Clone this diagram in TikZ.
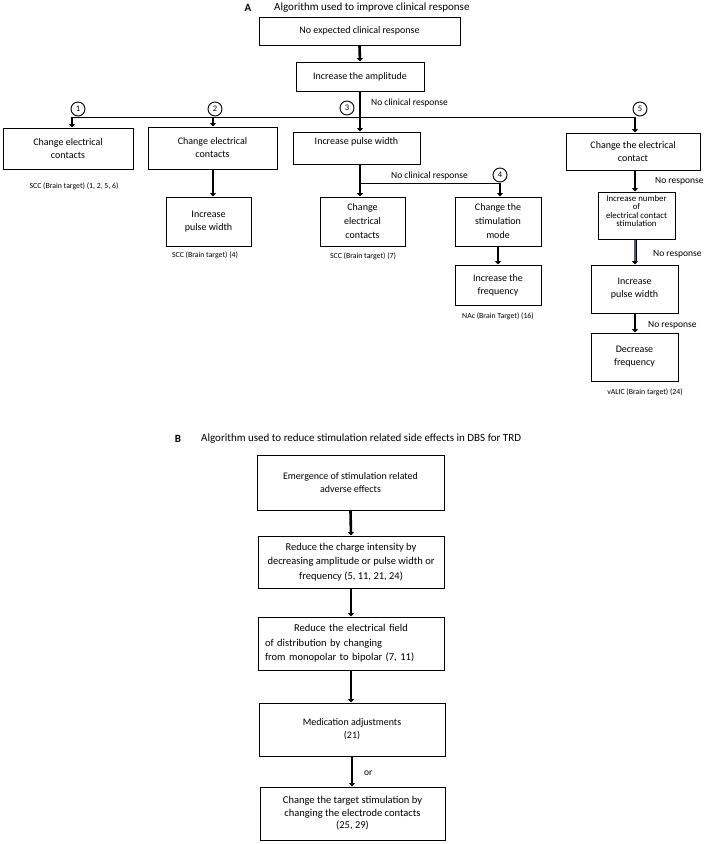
\documentclass[tikz,border=0pt]{standalone}
\usepackage{fontspec}
\setmainfont{Carlito}
\usetikzlibrary{arrows.meta}
\definecolor{slate}{RGB}{75,90,118}
\tikzset{
  box/.style={draw, line width=1pt, align=center, inner sep=1pt, font=\fontsize{10}{13}\selectfont},
  arr/.style={line width=2.6pt, -{Triangle[length=3.5pt,width=6pt]}},
  thinline/.style={line width=0.8pt},
  circ/.style={draw, circle, line width=0.9pt, minimum size=14pt, inner sep=0pt, fill=white, font=\fontsize{8.5}{9}\selectfont},
  small/.style={font=\fontsize{7.8}{8}\selectfont, inner sep=0pt},
  resp/.style={font=\fontsize{9.5}{10}\selectfont, inner sep=0pt, anchor=west},
  ttl/.style={font=\fontsize{11}{12}\selectfont, inner sep=0pt, anchor=west},
  ttlb/.style={font=\fontsize{11}{12}\bfseries, inner sep=0pt}
}
\begin{document}
\begin{tikzpicture}[x=1pt,y=-1pt]
\useasboundingbox (0,0) rectangle (708,844);
% ---------- Part A ----------
\node[ttlb] (A) at (248,8) {A};
\node[ttl] (tA) at (274,8) {Algorithm used to improve clinical response};
\node[box, minimum width=201pt, minimum height=28pt] (n1) at (359.5,31) {No expected clinical response};
\node[box, minimum width=128pt, minimum height=29pt] (n2) at (360,76.5) {Increase the amplitude};
\node[box, minimum width=130pt, minimum height=41pt] (b1) at (68,148.5) {Change electrical\\contacts};
\node[box, minimum width=129pt, minimum height=42pt] (b2) at (212.5,148) {Change electrical\\contacts};
\node[box, minimum width=85pt, minimum height=49pt] (b2b) at (208.5,221.5) {Increase\\pulse width};
\node[box, minimum width=127pt, minimum height=32pt] (b3) at (356.5,148) {Increase pulse width\\\mbox{}};
\node[box, minimum width=85pt, minimum height=49pt, font=\fontsize{10}{14}\selectfont] (b3a) at (362.5,221.5) {Change\\electrical\\contacts};
\node[box, minimum width=86pt, minimum height=49pt, font=\fontsize{10}{14}\selectfont] (b4) at (498,221.5) {Change the\\stimulation\\mode};
\node[box, minimum width=86pt, minimum height=40pt] (b4b) at (498,285) {Increase the\\frequency};
\node[box, minimum width=134pt, minimum height=37pt] (b5) at (633,151.5) {Change the electrical\\contact};
\node[box, minimum width=77pt, minimum height=47pt, font=\fontsize{8.8}{8.2}\selectfont] (b5b) at (636.5,215.5) {Increase number\\of\\electrical contact\\stimulation\\[1pt]\mbox{}};
\node[box, minimum width=87pt, minimum height=48pt] (b5c) at (634.5,289) {Increase\\pulse width};
\node[box, minimum width=87pt, minimum height=48pt] (b5d) at (634.5,357) {Decrease\\frequency};

\node[small] (l1) at (74,186) {SCC (Brain target) (1, 2, 5, 6)};
\node[small] (l2) at (205,255) {SCC (Brain target) (4)};
\node[small] (l3) at (363,256) {SCC (Brain target) (7)};
\node[small] (l4) at (498,316) {NAc (Brain Target) (16)};
\node[small] (l5) at (645,392) {vALIC (Brain target) (24)};

\coordinate (hl) at (72,117);
\coordinate (h2) at (213,117);
\coordinate (hr) at (635,117);
\coordinate (v3) at (360,183);
\coordinate (v4) at (500,183);

\draw[thinline] (hl) -- (hr);
\draw[thinline] (v3) -- (v4);
\draw[arr] (n1.south) -- (n2.north);
\draw[arr] (n2.south) -- (n2.south |- b3.north);
\draw[arr] (hl) -- (hl |- b1.north);
\draw[arr] (h2) -- (h2 |- b2.north);
\draw[arr] (hr) -- (hr |- b5.north);
\draw[arr] (h2 |- b2.south) -- (h2 |- b2b.north);
\draw[arr] (v3 |- b3.south) -- (v3 |- b3a.north);
\draw[arr] (v4) -- (v4 |- b4.north);
\draw[arr] (b4.south) -- (b4b.north);
\draw[arr] (hr |- b5.south) -- (hr |- b5b.north);
\draw[arr, line width=3pt] (hr |- b5b.south) -- (hr |- b5c.north);
\draw[slate, line width=1.4pt, shorten >=4pt] (hr |- b5b.south) -- (hr |- b5c.north);
\draw[arr] (hr |- b5c.south) -- (hr |- b5d.north);

\node[circ] (c1) at (78,109) {1};
\node[circ] (c2) at (215,109) {2};
\node[circ] (c3) at (347,108) {3};
\node[circ] (c4) at (500,175) {4};
\node[circ] (c5) at (640,109) {5};

\node[resp] (r1) at (371,103) {No clinical response};
\node[resp] (r2) at (391,176) {No clinical response};
\node[resp] (r3) at (655,181) {No response};
\node[resp] (r4) at (653,254) {No response};
\node[resp] (r5) at (648,325) {No response};

% ---------- Part B ----------
\node[ttlb] (B) at (178,439) {B};
\node[ttl] (tB) at (201,439) {Algorithm used to reduce stimulation related side effects in DBS for TRD};
\node[box, minimum width=187pt, minimum height=55pt] (B1) at (350.5,482.5) {Emergence of stimulation related\\adverse effects};
\node[box, minimum width=186pt, minimum height=52pt, font=\fontsize{10.5}{14.5}\selectfont] (B2) at (351,562) {Reduce the charge intensity by\\decreasing amplitude or pulse width or\\frequency (5, 11, 21, 24)};
\node[box, minimum width=186pt, minimum height=53pt, text width=172pt, align=left, font=\fontsize{10.5}{14.5}\selectfont] (B3) at (351,643.5) {\makebox[172pt]{Reduce the electrical field}\\of distribution by changing\\from monopolar to bipolar (7, 11)};
\node[box, minimum width=186pt, minimum height=53pt] (B4) at (352,729.5) {Medication adjustments\\(21)};
\node[box, minimum width=185pt, minimum height=53pt, font=\fontsize{10.5}{12.5}\selectfont] (B5) at (352.5,813.5) {Change the target stimulation by\\changing the electrode contacts\\(25, 29)};

\draw[arr] (B1.south) -- (B2.north);
\draw[arr] (B2.south) -- (B3.north);
\draw[arr] (B3.south) -- (B3.south |- B4.north);
\draw[arr] (B4.south) -- (B4.south |- B5.north);
\node[resp] (or) at (364,773) {or};
\end{tikzpicture}
\end{document}
